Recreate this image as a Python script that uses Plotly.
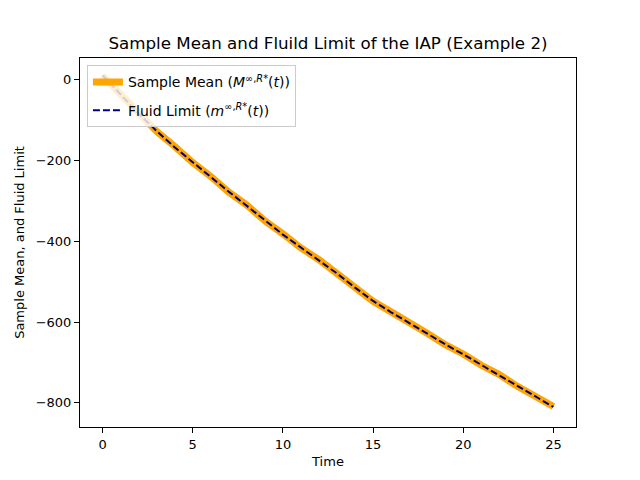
import plotly.graph_objects as go

time = list(range(0, 26))
fluid_limit = [10, -38, -85, -128, -168, -205, -242, -278, -313, -349, -384, -416, -448,
               -480, -515, -548, -576, -603, -630, -655, -680, -706, -732, -758, -784, -810]
sample_mean = [9, -39, -84, -129, -166, -206, -240, -279, -311, -350, -382, -417, -446,
               -481, -513, -549, -575, -604, -628, -656, -679, -707, -730, -759, -783, -809]

x_ticks = [0, 5, 10, 15, 20, 25]
y_ticks = [0, -200, -400, -600, -800]

fig = go.Figure()
fig.add_trace(go.Scatter(
    x=time, y=sample_mean, mode="lines", legendgroup="a",
    name="Sample Mean (<i>M</i><sup>∞,<i>R</i>*</sup>(<i>t</i>))",
    line=dict(color="orange", width=7),
))
fig.add_trace(go.Scatter(
    x=time, y=fluid_limit, mode="lines", legendgroup="b",
    name="Fluid Limit (<i>m</i><sup>∞,<i>R</i>*</sup>(<i>t</i>))",
    line=dict(color="navy", width=2, dash="7px,3px"),
))

axis_common = dict(
    showgrid=False, zeroline=False, showline=True, linecolor="black", linewidth=1,
    mirror=True, ticks="outside", ticklen=5, tickwidth=1, tickcolor="black",
    tickfont=dict(size=13, color="black"), automargin=False,
)

fig.update_layout(
    width=640, height=480,
    paper_bgcolor="white", plot_bgcolor="white",
    font=dict(family="DejaVu Sans", color="black"),
    margin=dict(l=80, r=64, t=58, b=53, autoexpand=False),
    title=dict(text="Sample Mean and Fluild Limit of the IAP (Example 2)",
               x=0.5125, xanchor="center", y=1 - 43 / 480, yanchor="middle",
               font=dict(size=16.7, color="black"), automargin=False),
    xaxis=dict(range=[-1.25, 26.25], tickvals=x_ticks,
               title=dict(text="Time", font=dict(size=13), standoff=6), **axis_common),
    yaxis=dict(range=[-859.5, 52.5], tickvals=y_ticks,
               title=dict(text="Sample Mean, and Fluid Limit", font=dict(size=13), standoff=8),
               **axis_common),
    legend=dict(x=0.014, y=0.98, xanchor="left", yanchor="top",
                bgcolor="rgba(255,255,255,0.8)", bordercolor="#cccccc", borderwidth=1,
                font=dict(size=14), itemwidth=30, tracegroupgap=7),
    showlegend=True,
)

fig.write_html("out.html", config={"displayModeBar": False},
               post_script="document.body.style.margin='0';document.body.style.overflow='hidden';")
